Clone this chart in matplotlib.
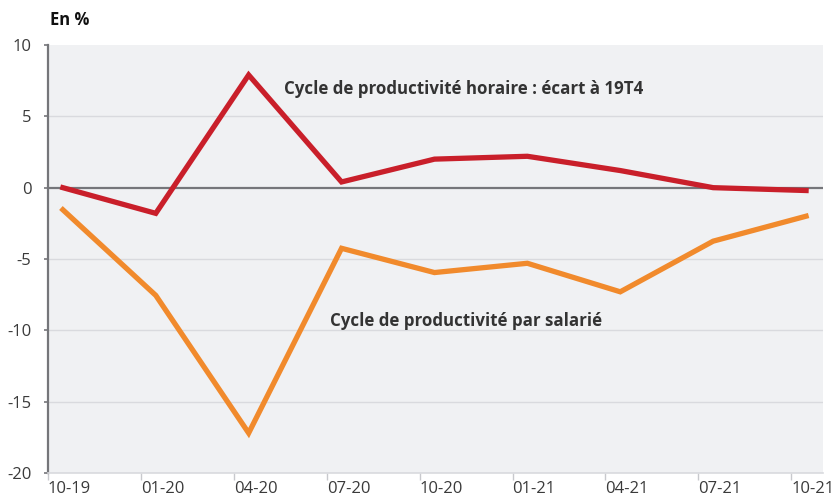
import matplotlib
matplotlib.use("Agg")
import matplotlib.pyplot as plt
import numpy as np

quarters = ["10-19", "01-20", "04-20", "07-20", "10-20", "01-21", "04-21", "07-21", "10-21"]
horaire = [0.0, -1.8, 7.9, 0.4, 2.0, 2.2, 1.2, 0.0, -0.2]
salarie = [-1.55, -7.55, -17.2, -4.25, -5.95, -5.3, -7.3, -3.75, -2.0]
y_ticks = [10, 5, 0, -5, -10, -15, -20]

plt.rcParams['font.family'] = ['Open Sans', 'DejaVu Sans']

fig = plt.figure(figsize=(8.33, 5.0), dpi=100)
ax = fig.add_axes([48/833, 1-473/500, (823-48)/833, (473-45)/500])
ax.set_facecolor('#F0F1F3')

tick_pos = np.arange(len(quarters))
data_x = tick_pos + 0.16

for y in y_ticks:
    if y not in (0, 10, -20):
        ax.axhline(y, color='#D9DADE', lw=1.0, zorder=1)
ax.axhline(0, color='#75767A', lw=1.6, zorder=2)

ax.plot(data_x, horaire, color='#C91F2A', lw=3.8, solid_joinstyle='miter', zorder=3)
ax.plot(data_x, salarie, color='#F18A2C', lw=3.8, solid_joinstyle='miter', zorder=3)

ax.set_xlim(0, (823-48)/92.9)
ax.set_ylim(-20, 10)
ax.set_yticks(y_ticks)
ax.set_yticklabels([str(v) for v in y_ticks])
ax.set_xticks(tick_pos)
ax.set_xticklabels(quarters)
for lbl in ax.get_xticklabels():
    lbl.set_horizontalalignment('left')

ax.tick_params(axis='y', length=3, width=1.2, color='#75767A', pad=9,
               labelsize=12, labelcolor='#3A3A3A')
ax.tick_params(axis='x', length=5, width=1.0, color='#C8C9CD', pad=1,
               labelsize=12, labelcolor='#3A3A3A')
for lbl in ax.get_xticklabels():
    lbl.set_x(lbl.get_position()[0] - 0.02)

for s in ('top', 'right'):
    ax.spines[s].set_visible(False)
ax.spines['left'].set_color('#75767A')
ax.spines['left'].set_linewidth(1.6)
ax.spines['bottom'].set_color('#D9DADE')
ax.spines['bottom'].set_linewidth(1.2)

ax.text(2.54, 6.95, "Cycle de productivité horaire : écart à 19T4", fontsize=12.2,
        fontweight='bold', color='#333333', va='center', ha='left', zorder=4)
ax.text(3.04, -9.33, "Cycle de productivité par salarié", fontsize=12.2,
        fontweight='bold', color='#333333', va='center', ha='left', zorder=4)

fig.text(50/833, 1-20/500, "En %", fontsize=12, fontweight='bold', color='#111111',
         va='center', ha='left')

fig.savefig("out.png", dpi=100)
